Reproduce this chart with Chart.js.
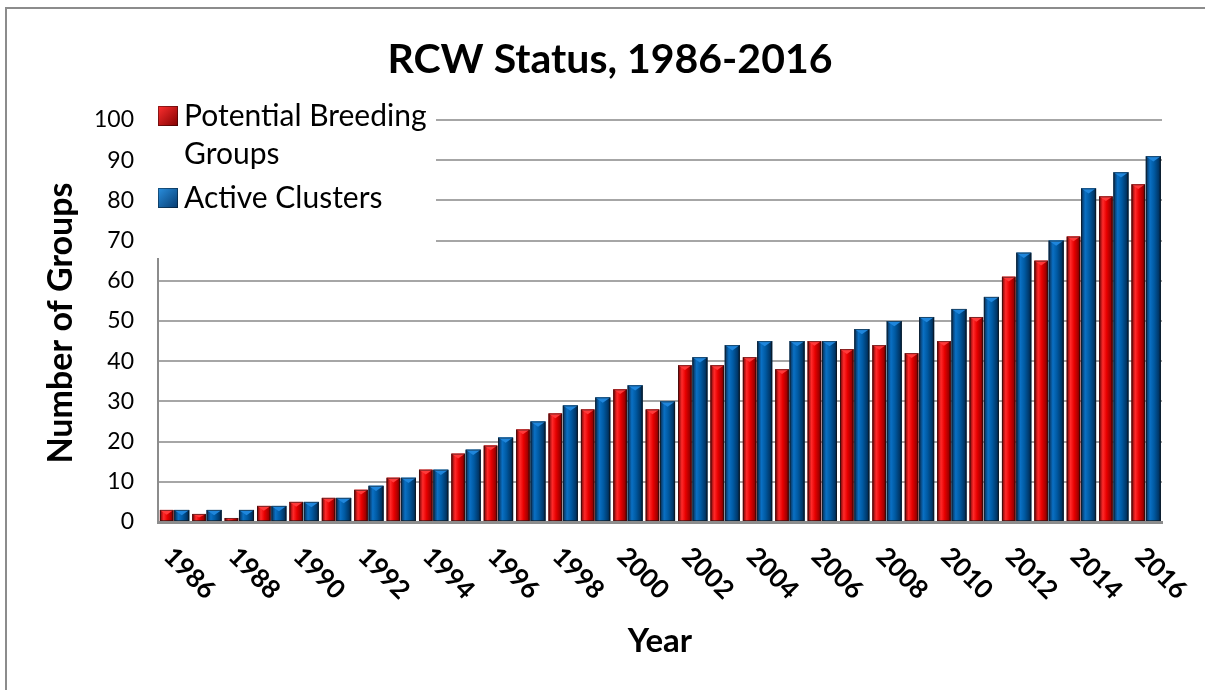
<!DOCTYPE html>
<html>
<head>
<meta charset="utf-8">
<script src="https://cdn.jsdelivr.net/npm/chart.js@4"></script>
<style>
  body { margin: 0; background: #fff; }
  #wrap { width: 1205px; height: 690px; }
</style>
</head>
<body>
<div id="wrap"><canvas id="rcwChart" width="1205" height="690"></canvas></div>
<script>
var years = ['1986','1987','1988','1989','1990','1991','1992','1993','1994','1995','1996',
  '1997','1998','1999','2000','2001','2002','2003','2004','2005','2006','2007','2008',
  '2009','2010','2011','2012','2013','2014','2015','2016'];
var breedingGroups = [3, 2, 1, 4, 5, 6, 8, 11, 13, 17, 19, 23, 27, 28, 33, 28, 39, 39, 41, 38,
  45, 43, 44, 42, 45, 51, 61, 65, 71, 81, 84];
var activeClusters = [3, 3, 3, 4, 5, 6, 9, 11, 13, 18, 21, 25, 29, 31, 34, 30, 41, 44, 45, 45,
  45, 48, 50, 51, 53, 56, 67, 70, 83, 87, 91];
var yearTicks = ['1986','1988','1990','1992','1994','1996','1998','2000','2002','2004',
  '2006','2008','2010','2012','2014','2016'];

var FONT = 'Lato, "Open Sans", sans-serif';

// shaded "3D" look for each bar, drawn over the plain bar
var barShade = {
  id: 'barShade',
  afterDatasetDraw: function(chart, args) {
    var ctx = chart.ctx;
    var red = args.index === 0;
    var stops = red
      ? ['#6e0000', '#ff2a2a', '#e80000', '#a00000', '#4a0000']
      : ['#08284a', '#0a70c4', '#005aa3', '#00386a', '#001a33'];
    var cap = red ? '#ff3a3a' : '#1f86dc';
    args.meta.data.forEach(function(bar) {
      var p = bar.getProps(['x', 'y', 'base', 'width'], true);
      var l = p.x - p.width / 2, r = p.x + p.width / 2;
      var g = ctx.createLinearGradient(l, 0, r, 0);
      g.addColorStop(0, stops[0]);
      g.addColorStop(0.28, stops[1]);
      g.addColorStop(0.55, stops[2]);
      g.addColorStop(0.85, stops[3]);
      g.addColorStop(1, stops[4]);
      ctx.save();
      ctx.fillStyle = g;
      ctx.fillRect(l, p.y, p.width, p.base - p.y);
      var d = Math.min(p.width * 0.35, (p.base - p.y) / 2);
      ctx.fillStyle = cap;
      ctx.beginPath();
      ctx.moveTo(l, p.y);
      ctx.lineTo(r, p.y);
      ctx.lineTo(p.x, p.y + d);
      ctx.closePath();
      ctx.fill();
      ctx.strokeStyle = 'rgba(20,20,20,0.55)';
      ctx.lineWidth = 1;
      ctx.strokeRect(l + 0.5, p.y + 0.5, p.width - 1, p.base - p.y - 1);
      ctx.restore();
    });
  }
};

var decorations = {
  id: 'decorations',
  afterDraw: function(chart) {
    var ctx = chart.ctx;
    var xs = chart.scales.x;
    ctx.save();

    // legend box covering the grid
    ctx.fillStyle = '#fff';
    ctx.fillRect(140, 90, 296, 168);
    var sq = function(x, y, c1, c2) {
      var g = ctx.createLinearGradient(x, y, x + 20, y + 20);
      g.addColorStop(0, c1);
      g.addColorStop(1, c2);
      ctx.fillStyle = g;
      ctx.fillRect(x, y, 20, 20);
      ctx.strokeStyle = 'rgba(0,0,0,0.4)';
      ctx.strokeRect(x + 0.5, y + 0.5, 19, 19);
    };
    sq(158, 106, '#ff3030', '#800000');
    sq(158, 188, '#2a90e0', '#063a6e');
    ctx.fillStyle = '#000';
    ctx.font = '30px ' + FONT;
    ctx.textAlign = 'left';
    ctx.textBaseline = 'alphabetic';
    ctx.fillText('Potential Breeding', 184, 126);
    ctx.fillText('Groups', 184, 164);
    ctx.fillText('Active Clusters', 184, 208);

    // rotated year labels
    ctx.font = 'bold 26px ' + FONT;
    ctx.textBaseline = 'middle';
    yearTicks.forEach(function(t) {
      var px = xs.getPixelForValue(years.indexOf(t));
      ctx.save();
      ctx.translate(px - 6, 552);
      ctx.rotate(Math.PI / 4);
      ctx.fillText(t, 0, 0);
      ctx.restore();
    });

    // titles
    ctx.textAlign = 'center';
    ctx.textBaseline = 'alphabetic';
    ctx.font = 'bold 41px ' + FONT;
    ctx.fillText('RCW Status, 1986-2016', 610, 73);
    ctx.font = 'bold 33px ' + FONT;
    ctx.fillText('Year', 660, 652);
    ctx.save();
    ctx.translate(72, 323);
    ctx.rotate(-Math.PI / 2);
    ctx.font = 'bold 34px ' + FONT;
    ctx.fillText('Number of Groups', 0, 0);
    ctx.restore();

    // outer frame (top and left edges)
    ctx.strokeStyle = '#8c8c8c';
    ctx.lineWidth = 2;
    ctx.beginPath();
    ctx.moveTo(1205, 8);
    ctx.lineTo(6, 8);
    ctx.lineTo(6, 690);
    ctx.stroke();
    ctx.restore();
  }
};

new Chart(document.getElementById('rcwChart').getContext('2d'), {
  type: 'bar',
  data: {
    labels: years,
    datasets: [
      {
        label: 'Potential Breeding Groups',
        data: breedingGroups,
        backgroundColor: '#e00000',
        barPercentage: 0.9,
        categoryPercentage: 0.93
      },
      {
        label: 'Active Clusters',
        data: activeClusters,
        backgroundColor: '#0060a8',
        barPercentage: 1.0,
        categoryPercentage: 0.93
      }
    ]
  },
  options: {
    responsive: false,
    animation: false,
    layout: { padding: { left: 0, right: 43, top: 120, bottom: 0 } },
    plugins: {
      legend: { display: false },
      title: { display: false },
      tooltip: { enabled: false }
    },
    scales: {
      x: {
        grid: { display: false },
        border: { color: '#8c8c8c', width: 3 },
        ticks: { display: false },
        afterFit: function(s) { s.height = 168; }
      },
      y: {
        min: 0,
        max: 100,
        ticks: {
          stepSize: 10,
          color: '#000',
          padding: 24,
          font: { family: FONT, size: 23 }
        },
        grid: { color: '#a6a6a6', lineWidth: 2, drawTicks: false },
        border: { color: '#8c8c8c', width: 2 },
        afterFit: function(s) { s.width = 158; }
      }
    }
  },
  plugins: [barShade, decorations]
});
</script>
</body>
</html>
